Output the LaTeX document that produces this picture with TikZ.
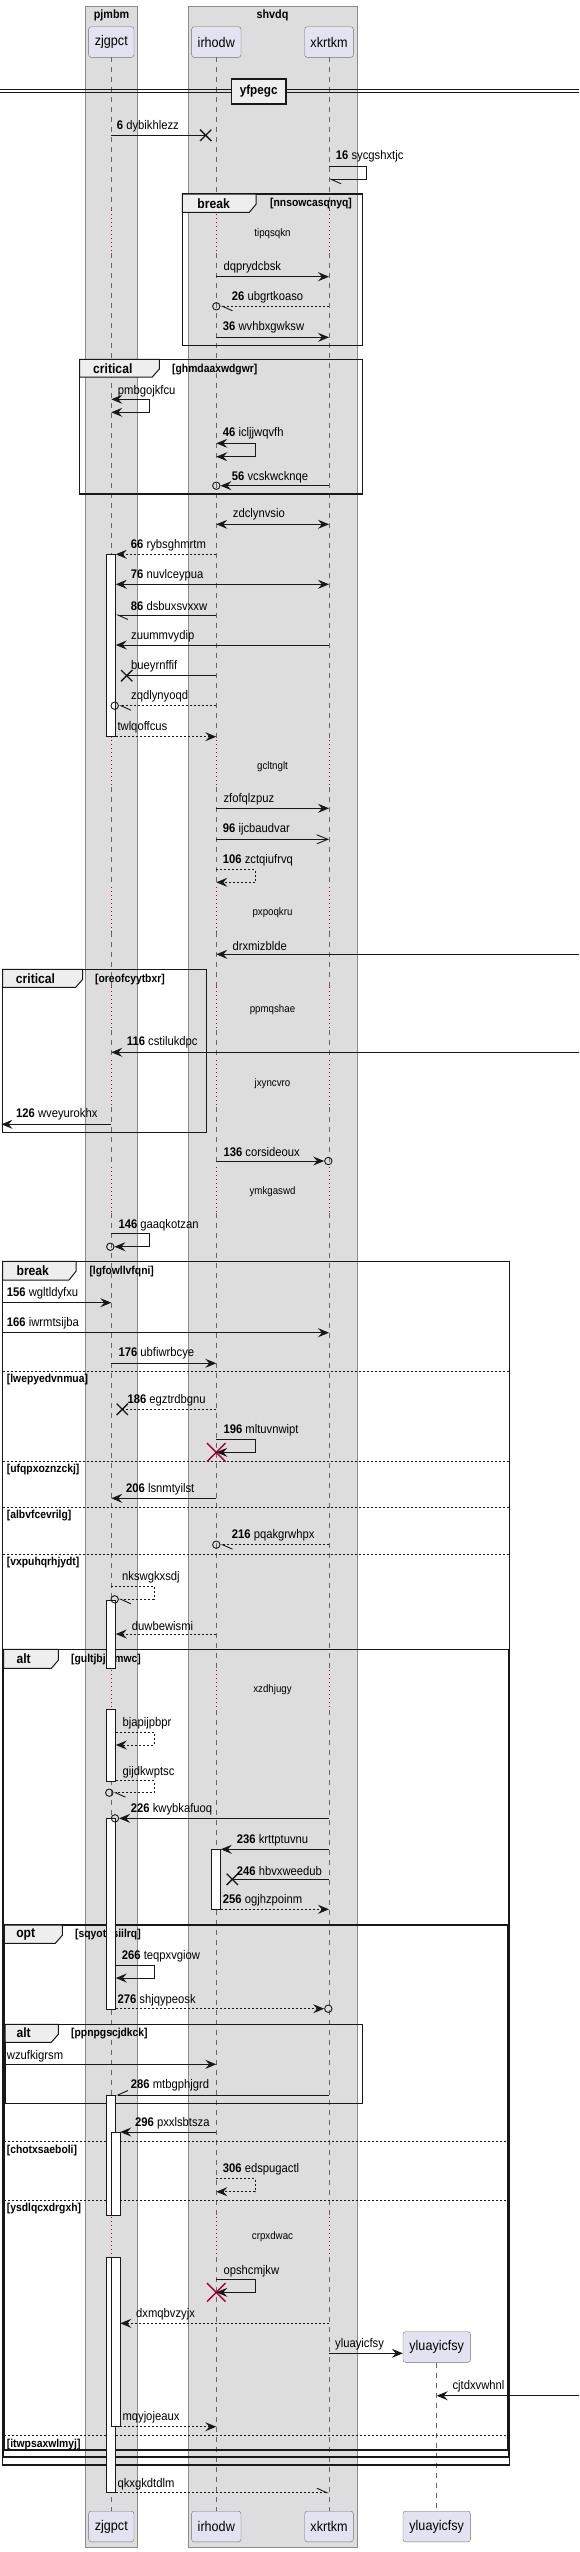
\documentclass[tikz,border=0pt]{standalone}
\usepackage{fontspec}
\setmainfont[FakeStretch=0.9]{Liberation Sans}
\usetikzlibrary{arrows.meta,calc,shapes.misc}

\definecolor{boxgray}{HTML}{DDDDDD}
\definecolor{headfill}{HTML}{E2E2F0}
\definecolor{tabfill}{HTML}{EEEEEE}
\definecolor{delayred}{HTML}{A80036}
\definecolor{ink}{HTML}{181818}

\tikzset{
  pbox/.style={fill=boxgray, draw=black!45, line width=0.5pt},
  boxtitle/.style={inner sep=0pt, font=\bfseries\fontsize{12}{14}\selectfont},
  head/.style={draw=black!55, fill=headfill, rounded corners=2.5pt, minimum height=30.6pt, inner sep=0pt, font=\fontsize{14}{16}\selectfont},
  lifeline/.style={draw=black!60, line width=0.6pt, dash pattern=on 5pt off 5pt},
  delayline/.style={draw=delayred, line width=0.7pt, dash pattern=on 1pt off 3pt},
  delaytxt/.style={inner sep=0pt, font=\fontsize{10.8}{12}\selectfont},
  act/.style={draw=ink, fill=white, line width=0.8pt},
  msg/.style={draw=ink, line width=0.9pt},
  ret/.style={msg, dash pattern=on 2pt off 2pt},
  halfl/.style={-{Straight Barb[harpoon,length=10pt,width=9pt]}},
  halfr/.style={-{Straight Barb[harpoon,swap,length=10pt,width=9pt]}},
  opena/.style={-{Straight Barb[length=11pt,width=9pt]}},
  lbl/.style={anchor=west, inner sep=0pt, font=\fontsize{12.5}{14}\selectfont},
  frame/.style={draw=ink, line width=1.4pt},
  tab/.style={draw=ink, fill=tabfill, line width=1pt},
  tabtxt/.style={inner sep=0pt, font=\bfseries\fontsize{13.5}{15}\selectfont},
  cond/.style={anchor=west, inner sep=0pt, font=\bfseries\fontsize{11.5}{13}\selectfont},
  elseline/.style={draw=ink, line width=0.7pt, dash pattern=on 2pt off 2pt},
  lostx/.style={cross out, draw=ink, line width=1.3pt, minimum size=10pt, inner sep=0pt},
  killx/.style={cross out, draw=delayred, line width=1.4pt, minimum size=17pt, inner sep=0pt},
  ring/.style={circle, draw=ink, line width=0.9pt, minimum size=7.4pt, inner sep=0pt}
}

\begin{document}
\begin{tikzpicture}[x=1pt, y=-1pt, >={Stealth[length=11pt,width=9pt,inset=4pt]}]
\useasboundingbox (0,0) rectangle (579,2552);

%Boxen
\draw[pbox] (85.3,6) rectangle (137.7,2547.7);
\draw[pbox] (188,6) rectangle (357,2547.7);
\node[boxtitle] (pjmbm) at (111.5,15.5) {pjmbm};
\node[boxtitle] (shvdq) at (272.5,15.5) {shvdq};

%Teilnehmer
\node[head, minimum width=45.3pt] (zjT) at (111.3,42) {zjgpct};
\node[head, minimum width=49.3pt] (irT) at (216.3,42) {irhodw};
\node[head, minimum width=48.6pt] (xkT) at (329,42) {xkrtkm};
\node[head, minimum width=45.3pt] (zjB) at (111.3,2526.5) {zjgpct};
\node[head, minimum width=49.3pt] (irB) at (216.3,2526.5) {irhodw};
\node[head, minimum width=48.6pt] (xkB) at (329,2526.5) {xkrtkm};
\node[head, minimum width=67.4pt] (ylT) at (436.7,2347) {yluayicfsy};
\node[head, minimum width=67.4pt] (ylB) at (436.7,2526.5) {yluayicfsy};

\coordinate (L) at (1.5,0);
\coordinate (R) at (579,0);
\coordinate (zjA) at (115.8,0);
\coordinate (zjA2) at (120.3,0);
\coordinate (irA) at (220.8,0);

%Lebenslinien
\foreach \p in {zjT,irT,xkT}{
  \foreach \a/\b in {57.3/210,253/740,787/887,932/987,1030/1060,1107/1167,1213/1670,1710/2217,2257/2510.7}
    \draw[lifeline] (\p |- 0,\a) -- (\p |- 0,\b);
  \foreach \a/\b in {210/253,740/787,887/932,987/1030,1060/1107,1167/1213,1670/1710,2217/2257}
    \draw[delayline] (\p |- 0,\a) -- (\p |- 0,\b);
}
\draw[lifeline] (ylT.south) -- (ylB.north);

%Verzoegerungen
\node[delaytxt] (tipqsqkn) at (272.5,234) {tipqsqkn};
\node[delaytxt] (gcltnglt) at (272.5,766.7) {gcltnglt};
\node[delaytxt] (pxpoqkru) at (272.5,912.3) {pxpoqkru};
\node[delaytxt] (ppmqshae) at (272.5,1009.3) {ppmqshae};
\node[delaytxt] (jxyncvro) at (272.5,1083.3) {jxyncvro};
\node[delaytxt] (ymkgaswd) at (272.5,1191.7) {ymkgaswd};
\node[delaytxt] (xzdhjugy) at (272.5,1690) {xzdhjugy};
\node[delaytxt] (crpxdwac) at (272.5,2236.7) {crpxdwac};

%Trenner
\draw[ink, line width=0.9pt] (0,89.5) -- (579,89.5) (0,92.5) -- (579,92.5);
\node[draw=ink, line width=1.6pt, fill=tabfill, minimum width=54.7pt, minimum height=25pt, inner sep=0pt, font=\bfseries\fontsize{13}{15}\selectfont] (yfpegc) at (258.7,91.2) {yfpegc};

%break nnsowcasqnyq
\draw[frame] (182.3,194) rectangle (362.7,345.7);
\draw[tab] (182.3,194) -- (256,194) -- (256,204.3) -- (249.3,212.3) -- (182.3,212.3) -- cycle;
\node[tabtxt] (brkA) at (213.7,203.5) {break};
\node[cond] (nnsowcasqnyq) at (270,203.3) {[nnsowcasqnyq]};

%critical ghmdaaxwdgwr
\draw[frame] (79.7,359.3) rectangle (362.7,494);
\draw[tab] (79.7,359.3) -- (159.3,359.3) -- (159.3,369) -- (152.3,377) -- (79.7,377) -- cycle;
\node[tabtxt] (critA) at (112.8,368.7) {critical};
\node[cond] (ghmdaaxwdgwr) at (172,369.3) {[ghmdaaxwdgwr]};

%critical oreofcyytbxr
\draw[frame] (2.7,969.3) rectangle (206.3,1132.3);
\draw[tab] (2.7,969.3) -- (82.7,969.3) -- (82.7,979.3) -- (75.7,987.3) -- (2.7,987.3) -- cycle;
\node[tabtxt] (critB) at (35.5,978.5) {critical};
\node[cond] (oreofcyytbxr) at (95,980) {[oreofcyytbxr]};

%break lgfowllvfqni
\draw[frame] (2.7,1261.3) rectangle (509.3,2465);
\draw[tab] (2.7,1261.3) -- (76,1261.3) -- (76,1271.3) -- (69,1280) -- (2.7,1280) -- cycle;
\node[tabtxt] (brkB) at (32.8,1271) {break};
\node[cond] (lgfowllvfqni) at (89.3,1271.7) {[lgfowllvfqni]};
\foreach \y in {1371.7,1461,1507.3,1554.3}
  \draw[elseline] (2.7,\y) -- (509.3,\y);
\node[cond] (lwepyedvnmua) at (6.7,1380) {[lwepyedvnmua]};
\node[cond] (ufqpxoznzckj) at (6.7,1469.3) {[ufqpxoznzckj]};
\node[cond] (albvfcevrilg) at (6.7,1515.7) {[albvfcevrilg]};
\node[cond] (vxpuhqrhjydt) at (6.7,1562.7) {[vxpuhqrhjydt]};

%alt gultjbjsimwc
\draw[frame] (3.5,1649.3) rectangle (508.5,2457);
\draw[tab] (3.5,1649.3) -- (58.3,1649.3) -- (58.3,1660.3) -- (51.3,1668.3) -- (3.5,1668.3) -- cycle;
\node[tabtxt] (altA) at (23.7,1659) {alt};
\node[cond] (gultjbjsimwc) at (71,1659.3) {[gultjbjsimwc]};

%opt sqyotnsiilrq
\draw[frame] (4.3,1925) rectangle (507.7,2450);
\draw[tab] (4.3,1925) -- (62.3,1925) -- (62.3,1935.3) -- (55.3,1943.3) -- (4.3,1943.3) -- cycle;
\node[tabtxt] (optA) at (25.7,1934) {opt};
\node[cond] (sqyotnsiilrq) at (75,1934.3) {[sqyotnsiilrq]};
\foreach \y in {2141,2200,2435.3}
  \draw[elseline] (4.3,\y) -- (507.7,\y);
\node[cond] (chotxsaeboli) at (6.7,2150) {[chotxsaeboli]};
\node[cond] (ysdlqcxdrgxh) at (6.7,2208.3) {[ysdlqcxdrgxh]};
\node[cond] (itwpsaxwlmyj) at (6.7,2444) {[itwpsaxwlmyj]};

%alt ppnpgscjdkck
\draw[frame] (5.1,2024.3) rectangle (362.7,2103.3);
\draw[tab] (5.1,2024.3) -- (58.3,2024.3) -- (58.3,2034.3) -- (51.3,2042.3) -- (5.1,2042.3) -- cycle;
\node[tabtxt] (altB) at (23.7,2033) {alt};
\node[cond] (ppnpgscjdkck) at (71,2033.3) {[ppnpgscjdkck]};

%Aktivierungen
\draw[act] (106.8,554.3) rectangle (115.8,736.7);
\draw[act] (106.8,1600) rectangle (115.8,1668.3);
\draw[act] (106.8,1709) rectangle (115.8,1781.7);
\draw[act] (106.8,1818.3) rectangle (115.8,2009);
\draw[act] (106.8,2095) rectangle (115.8,2215.7);
\draw[act] (106.8,2257.3) rectangle (115.8,2492.7);
\draw[act] (111.3,2132) rectangle (120.3,2215.7);
\draw[act] (111.3,2257.3) rectangle (120.3,2426.7);
\draw[act] (211.8,1849.3) rectangle (220.8,1909.3);

%Nachrichten
\node[lostx] (xa) at (205.7,135.3) {};
\draw[msg] (zjT |- xa) -- (xa.center);
\node[lbl] (dybikhlezz) at (116.7,126.7) {\textbf{6} dybikhlezz};

\draw[msg, halfl] (xkT |- 0,166) -- ++(37.7,0) -- ++(0,13.3) -- (xkT |- 0,179.3);
\node[lbl] (sycgshxtjc) at (335.7,156.7) {\textbf{16} sycgshxtjc};

\draw[msg, ->] (irT |- 0,276.7) -- (xkT |- 0,276.7);
\node[lbl] (dqprydcbsk) at (223.3,267.3) {dqprydcbsk};

\node[ring] (ra) at (216.3,306.3) {};
\draw[ret, halfl] (xkT |- ra) -- (ra.east);
\node[lbl] (ubgrtkoaso) at (231.7,297.7) {\textbf{26} ubgrtkoaso};

\draw[msg, ->] (irT |- 0,337.3) -- (xkT |- 0,337.3);
\node[lbl] (wvhbxgwksw) at (222.7,327.3) {\textbf{36} wvhbxgwksw};

\draw[msg, <->] (zjT |- 0,399.3) -- ++(38,0) -- ++(0,13) -- (zjT |- 0,412.3);
\node[lbl] (pmbgojkfcu) at (117.7,391) {pmbgojkfcu};

\draw[msg, <->] (irT |- 0,443.3) -- ++(38.7,0) -- ++(0,13.4) -- (irT |- 0,456.7);
\node[lbl] (icljjwqvfh) at (222.7,433.3) {\textbf{46} icljjwqvfh};

\node[ring] (rb) at (216.3,485.7) {};
\draw[msg, ->] (xkT |- rb) -- (rb.east);
\node[lbl] (vcskwcknqe) at (231.7,477.3) {\textbf{56} vcskwcknqe};

\draw[msg, <->] (irT |- 0,524.3) -- (xkT |- 0,524.3);
\node[lbl] (zdclynvsio) at (232.7,514.3) {zdclynvsio};

\draw[ret, ->] (irT |- 0,554.3) -- (zjA |- 0,554.3);
\node[lbl] (rybsghmrtm) at (130.7,545.7) {\textbf{66} rybsghmrtm};

\draw[msg, <->] (zjA |- 0,584.3) -- (xkT |- 0,584.3);
\node[lbl] (nuvlceypua) at (130.7,575.7) {\textbf{76} nuvlceypua};

\draw[msg, halfl] (irT |- 0,615) -- (zjA |- 0,615);
\node[lbl] (dsbuxsvxxw) at (130.7,605.7) {\textbf{86} dsbuxsvxxw};

\draw[msg, ->] (xkT |- 0,645) -- (zjA |- 0,645);
\node[lbl] (zuummvydip) at (131,636.7) {zuummvydip};

\node[lostx] (xb) at (126.7,675.7) {};
\draw[msg] (irT |- xb) -- (xb.center);
\node[lbl] (bueyrnffif) at (131,666.7) {bueyrnffif};

\node[ring] (rc) at (114.7,705.7) {};
\draw[ret, halfl] (irT |- rc) -- (rc.east);
\node[lbl] (zqdlynyoqd) at (131,696.7) {zqdlynyoqd};

\draw[ret, ->] (zjA |- 0,736.7) -- (irT |- 0,736.7);
\node[lbl] (twlqoffcus) at (117.3,727.3) {twlqoffcus};

\draw[msg, ->] (irT |- 0,808.3) -- (xkT |- 0,808.3);
\node[lbl] (zfofqlzpuz) at (223.3,799.3) {zfofqlzpuz};

\draw[msg, opena] (irT |- 0,839.3) -- (xkT |- 0,839.3);
\node[lbl] (ijcbaudvar) at (222.7,829.3) {\textbf{96} ijcbaudvar};

\draw[ret, ->] (irT |- 0,869.3) -- ++(38.7,0) -- ++(0,13) -- (irT |- 0,882.3);
\node[lbl] (zctqiufrvq) at (222.7,860) {\textbf{106} zctqiufrvq};

\draw[msg, ->] (R |- 0,954.3) -- (irT |- 0,954.3);
\node[lbl] (drxmizblde) at (232.3,945.7) {drxmizblde};

\draw[msg, ->] (R |- 0,1052.3) -- (zjT |- 0,1052.3);
\node[lbl] (cstilukdpc) at (126.7,1042.7) {\textbf{116} cstilukdpc};

\draw[msg, ->] (zjT |- 0,1124.3) -- (L |- 0,1124.3);
\node[lbl] (wveyurokhx) at (16,1114.3) {\textbf{126} wveyurokhx};

\node[ring] (rd) at (328.3,1161) {};
\draw[msg, ->] (irT |- rd) -- (rd.west);
\node[lbl] (corsideoux) at (223.3,1152.3) {\textbf{136} corsideoux};

\node[ring] (re) at (110.3,1246.7) {};
\draw[msg, ->] (zjT |- 0,1233.3) -- ++(38,0) -- ++(0,13.4) -- (re.east);
\node[lbl] (gaaqkotzan) at (118.3,1225) {\textbf{146} gaaqkotzan};

\draw[msg, ->] (L |- 0,1302.7) -- (zjT |- 0,1302.7);
\node[lbl] (wgltldyfxu) at (6.7,1293.3) {\textbf{156} wgltldyfxu};

\draw[msg, ->] (L |- 0,1332.7) -- (xkT |- 0,1332.7);
\node[lbl] (iwrmtsijba) at (6.7,1323.3) {\textbf{166} iwrmtsijba};

\draw[msg, ->] (zjT |- 0,1363.3) -- (irT |- 0,1363.3);
\node[lbl] (ubfiwrbcye) at (118.3,1353.3) {\textbf{176} ubfiwrbcye};

\node[lostx] (xc) at (122.3,1409.3) {};
\draw[ret] (irT |- xc) -- (xc.center);
\node[lbl] (egztrdbgnu) at (127.3,1400.7) {\textbf{186} egztrdbgnu};

\node[killx] (ka) at (216.3,1452.3) {};
\draw[msg, ->] (irT |- 0,1439.3) -- ++(38.7,0) -- ++(0,13) -- (ka.center);
\node[lbl] (mltuvnwipt) at (223.3,1430.7) {\textbf{196} mltuvnwipt};

\draw[msg, ->] (irT |- 0,1498.3) -- (zjT |- 0,1498.3);
\node[lbl] (lsnmtyilst) at (126,1489.3) {\textbf{206} lsnmtyilst};

\node[ring] (rf) at (216.3,1544.7) {};
\draw[ret, halfl] (xkT |- rf) -- (rf.east);
\node[lbl] (pqakgrwhpx) at (231.7,1535.7) {\textbf{216} pqakgrwhpx};

\node[ring] (rg) at (114.7,1599.3) {};
\draw[ret, halfl] (zjT |- 0,1586) -- ++(42.7,0) -- ++(0,13.3) -- (rg.east);
\node[lbl] (nkswgkxsdj) at (122,1577.3) {nkswgkxsdj};

\draw[ret, ->] (irT |- 0,1634) -- (zjA |- 0,1634);
\node[lbl] (duwbewismi) at (131.7,1625.7) {duwbewismi};

\draw[ret, ->] (zjA |- 0,1732.3) -- ++(38.2,0) -- ++(0,12.7) -- (zjA |- 0,1745);
\node[lbl] (bjapijpbpr) at (122.3,1723.3) {bjapijpbpr};

\node[ring] (rh) at (109.3,1792.7) {};
\draw[ret, halfl] (zjA |- 0,1780.7) -- ++(38.2,0) -- ++(0,12) -- (rh.east);
\node[lbl] (gijdkwptsc) at (122.3,1772.3) {gijdkwptsc};

\node[ring] (ri) at (115,1818.3) {};
\draw[msg, ->] (xkT |- ri) -- (ri.east);
\node[lbl] (kwybkafuoq) at (130.7,1809.3) {\textbf{226} kwybkafuoq};

\draw[msg, ->] (xkT |- 0,1849.3) -- (irA |- 0,1849.3);
\node[lbl] (krttptuvnu) at (236.7,1840) {\textbf{236} krttptuvnu};

\node[lostx] (xd) at (232.3,1879.3) {};
\draw[msg] (xkT |- xd) -- (xd.center);
\node[lbl] (hbvxweedub) at (236.7,1870.7) {\textbf{246} hbvxweedub};

\draw[ret, ->] (irA |- 0,1909.3) -- (xkT |- 0,1909.3);
\node[lbl] (ogjhzpoinm) at (222.7,1900.7) {\textbf{256} ogjhzpoinm};

\draw[msg, ->] (zjA |- 0,1965.7) -- ++(38.2,0) -- ++(0,12.3) -- (zjA |- 0,1978);
\node[lbl] (teqpxvgiow) at (121.7,1956.7) {\textbf{266} teqpxvgiow};

\node[ring] (rj) at (328.3,2008.7) {};
\draw[ret, ->] (zjA |- rj) -- (rj.west);
\node[lbl] (shjqypeosk) at (117.3,2000) {\textbf{276} shjqypeosk};

\draw[msg, ->] (L |- 0,2064.3) -- (irT |- 0,2064.3);
\node[lbl] (wzufkigrsm) at (6.7,2056) {wzufkigrsm};

\draw[msg, halfr] (xkT |- 0,2095) -- (zjA |- 0,2095);
\node[lbl] (mtbgphjgrd) at (130.7,2085.7) {\textbf{286} mtbgphjgrd};

\draw[msg, ->] (irT |- 0,2132) -- (zjA2 |- 0,2132);
\node[lbl] (pxxlsbtsza) at (135,2123.3) {\textbf{296} pxxlsbtsza};

\draw[ret, ->] (irT |- 0,2178.3) -- ++(38.7,0) -- ++(0,13.4) -- (irT |- 0,2191.7);
\node[lbl] (edspugactl) at (222.7,2169.3) {\textbf{306} edspugactl};

\node[killx] (kb) at (216.3,2292.3) {};
\draw[msg, ->] (irT |- 0,2279.3) -- ++(38.7,0) -- ++(0,13) -- (kb.center);
\node[lbl] (opshcmjkw) at (223.3,2271) {opshcmjkw};

\draw[ret, ->] (xkT |- 0,2323.3) -- (zjA2 |- 0,2323.3);
\node[lbl] (dxmqbvzyjx) at (136,2314.3) {dxmqbvzyjx};

\draw[msg, ->] (xkT |- 0,2353.3) -- (ylT.west |- 0,2353.3);
\node[lbl] (ylmsg) at (335,2344) {yluayicfsy};

\draw[msg, ->] (R |- 0,2395.7) -- (ylT |- 0,2395.7);
\node[lbl] (cjtdxvwhnl) at (452.3,2386.7) {cjtdxvwhnl};

\draw[ret, ->] (zjA2 |- 0,2426.7) -- (irT |- 0,2426.7);
\node[lbl] (mqyjojeaux) at (122.3,2417.3) {mqyjojeaux};

\draw[ret, halfl] (zjA |- 0,2492.7) -- (xkT |- 0,2492.7);
\node[lbl] (qkxgkdtdlm) at (117.3,2484) {qkxgkdtdlm};

\end{tikzpicture}
\end{document}
